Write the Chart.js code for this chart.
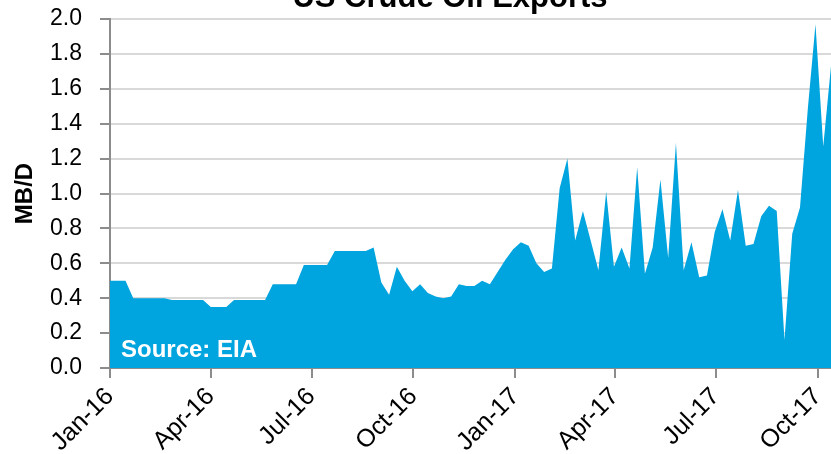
<!DOCTYPE html>
<html>
<head>
<meta charset="utf-8">
<script src="https://cdn.jsdelivr.net/npm/chart.js@4"></script>
<style>
  html, body { margin: 0; padding: 0; background: #fff; }
  #wrap { width: 831px; height: 454px; }
</style>
</head>
<body>
<div id="wrap"><canvas id="exportsChart" width="831" height="454"></canvas></div>
<script>
// ── Dados ─────────────────────────────────────────────────
const chartTitle = 'US Crude Oil Exports';
const sourceNote = 'Source: EIA';
const yAxisTitle = 'MB/D';

// exportações semanais, a partir da 1ª semana de jan/2016 (MB/D)
const weeklyExports = [
  0.50, 0.50, 0.50, 0.40, 0.40, 0.40, 0.40, 0.40, 0.39, 0.39,
  0.39, 0.39, 0.39, 0.35, 0.35, 0.35, 0.39, 0.39, 0.39, 0.39,
  0.39, 0.48, 0.48, 0.48, 0.48, 0.59, 0.59, 0.59, 0.59, 0.67,
  0.67, 0.67, 0.67, 0.67, 0.69, 0.49, 0.42, 0.58, 0.50, 0.44,
  0.48, 0.43, 0.41, 0.40, 0.41, 0.48, 0.47, 0.47, 0.50, 0.48,
  0.55, 0.62, 0.68, 0.72, 0.70, 0.60, 0.55, 0.57, 1.03, 1.20,
  0.73, 0.90, 0.73, 0.56, 1.01, 0.58, 0.69, 0.57, 1.15, 0.54,
  0.69, 1.08, 0.63, 1.29, 0.56, 0.72, 0.52, 0.53, 0.78, 0.91,
  0.73, 1.02, 0.70, 0.71, 0.87, 0.93, 0.90, 0.16, 0.77, 0.92,
  1.48, 1.97, 1.27, 1.73,
];
const daysPerWeek = 7;
const lastDay = 651;

// ticks trimestrais (dias desde 1/jan/2016)
const tickDays = [0, 91, 182, 274, 366, 456, 547, 639];
const tickLabels = ['Jan-16', 'Apr-16', 'Jul-16', 'Oct-16', 'Jan-17', 'Apr-17', 'Jul-17', 'Oct-17'];

// ── Estilo ────────────────────────────────────────────────
const FONT = '"Liberation Sans", Arial, sans-serif';
const AREA = '#00a4de';
const GRID = '#d9d9d9';
const AXIS = '#8c8c8c';

// título e nota da fonte
const overlayText = {
  id: 'overlayText',
  afterDraw(chart) {
    const { ctx, chartArea } = chart;
    ctx.save();
    ctx.fillStyle = '#000';
    ctx.font = `bold 31px ${FONT}`;
    ctx.textAlign = 'center';
    ctx.textBaseline = 'alphabetic';
    ctx.fillText(chartTitle, 450, 7);

    ctx.fillStyle = '#fff';
    ctx.font = `bold 24px ${FONT}`;
    ctx.textAlign = 'left';
    ctx.fillText(sourceNote, chartArea.left + 11, chartArea.bottom - 11);
    ctx.restore();
  },
};

const points = weeklyExports.map((v, i) => ({ x: i * daysPerWeek, y: v }));

new Chart(document.getElementById('exportsChart'), {
  type: 'line',
  data: {
    datasets: [{
      data: points,
      fill: 'origin',
      backgroundColor: AREA,
      borderColor: AREA,
      borderWidth: 0,
      pointRadius: 0,
      tension: 0,
    }],
  },
  options: {
    responsive: false,
    animation: false,
    layout: { padding: { top: 19, right: 0, bottom: 0, left: 0 } },
    plugins: {
      legend: { display: false },
      tooltip: { enabled: false },
    },
    scales: {
      x: {
        type: 'linear',
        min: 0,
        max: lastDay,
        afterBuildTicks: (s) => { s.ticks = tickDays.map(v => ({ value: v })); },
        afterFit: (s) => { s.height = 86; s.paddingLeft = 0; s.paddingRight = 0; },
        grid: {
          display: true,
          drawOnChartArea: false,
          drawTicks: true,
          tickLength: 10,
          tickColor: AXIS,
          lineWidth: 2,
        },
        border: { display: true, color: AXIS, width: 2 },
        ticks: {
          color: '#000',
          font: { family: FONT, size: 25 },
          minRotation: 45,
          maxRotation: 45,
          autoSkip: false,
          padding: 4,
          callback: (v) => {
            const idx = tickDays.indexOf(v);
            return idx >= 0 ? tickLabels[idx] : '';
          },
        },
      },
      y: {
        min: 0,
        max: 2,
        afterFit: (s) => { s.width = 110; s.paddingTop = 0; },
        grid: {
          color: GRID,
          lineWidth: 2,
          drawTicks: true,
          tickLength: 10,
          tickColor: AXIS,
        },
        border: { display: true, color: AXIS, width: 2 },
        ticks: {
          stepSize: 0.2,
          color: '#000',
          padding: 18,
          font: { family: FONT, size: 23 },
          callback: (v) => v.toFixed(1),
        },
        title: {
          display: true,
          text: yAxisTitle,
          color: '#000',
          font: { family: FONT, size: 24, weight: 'bold' },
          padding: { top: 11, bottom: 0 },
        },
      },
    },
  },
  plugins: [overlayText],
});
</script>
</body>
</html>
